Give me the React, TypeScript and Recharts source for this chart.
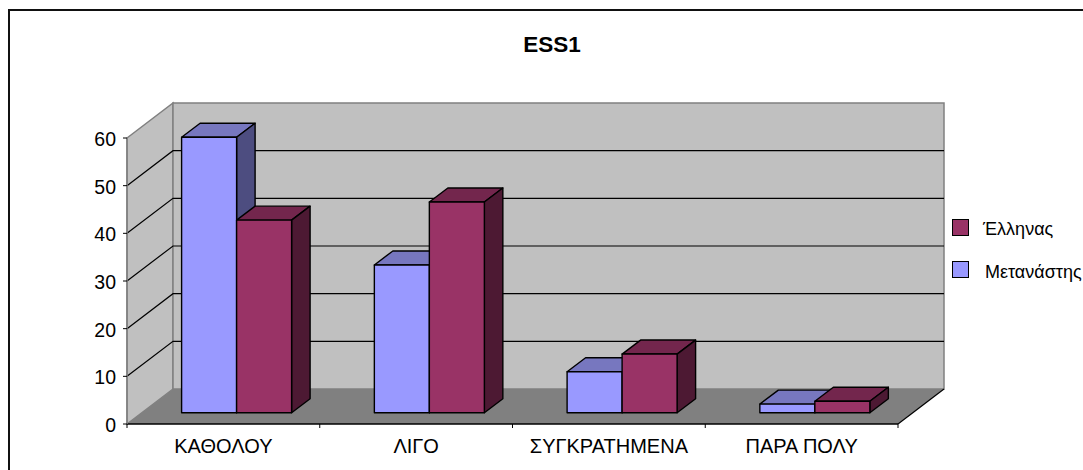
import { Bar, BarChart, Legend, XAxis, YAxis, usePlotArea } from "recharts"

const categories = ["ΚΑΘΟΛΟΥ", "ΛΙΓΟ", "ΣΥΓΚΡΑΤΗΜΕΝΑ", "ΠΑΡΑ ΠΟΛΥ"]
const metanastis = [57.8, 31, 8.6, 1.8]
const ellinas = [40.4, 44.2, 12.3, 2.4]
const yTicks = [0, 10, 20, 30, 40, 50, 60]

const data = categories.map((name, i) => ({
  name,
  "Μετανάστης": metanastis[i],
  "Έλληνας": ellinas[i],
}))

const legendItems = [
  { name: "Έλληνας", color: "#993366", textX: 31 },
  { name: "Μετανάστης", color: "#9999ff", textX: 33 },
]

const FONT = "'Liberation Sans', Arial, sans-serif"

// box depth of the 3D look
const WALL_DX = 46
const WALL_DY = 35
const BAR_DX = 13.6
const BAR_DY = 11.3
const DEPTH_DX = 18.5
const DEPTH_DY = 14

function Walls() {
  const plot = usePlotArea()
  if (!plot) return null
  const { x, y, width, height } = plot
  const bottom = y + height
  const right = x + width
  const band = width / categories.length
  const yOf = (t: number) => bottom - (t / 60) * height
  return (
    <g>
      <text x={552} y={52} textAnchor="middle" fontFamily={FONT} fontSize={22.5} fontWeight="bold" fill="#000">
        ESS1
      </text>
      <polygon
        points={`${x},${y} ${x + WALL_DX},${y - WALL_DY} ${x + WALL_DX},${bottom - WALL_DY} ${x},${bottom}`}
        fill="#c0c0c0"
        stroke="#808080"
        strokeWidth={1.5}
      />
      <rect
        x={x + WALL_DX}
        y={y - WALL_DY}
        width={width}
        height={height}
        fill="#c0c0c0"
        stroke="#808080"
        strokeWidth={1.5}
      />
      <polygon
        points={`${x},${bottom} ${x + WALL_DX},${bottom - WALL_DY} ${right + WALL_DX},${bottom - WALL_DY} ${right},${bottom}`}
        fill="#808080"
      />
      {yTicks.slice(1, -1).map((t) => (
        <path
          key={t}
          d={`M${x},${yOf(t)} L${x + WALL_DX},${yOf(t) - WALL_DY} L${right + WALL_DX},${yOf(t) - WALL_DY}`}
          fill="none"
          stroke="#000"
          strokeWidth={1.2}
        />
      ))}
      <line x1={right} y1={bottom} x2={right + WALL_DX} y2={bottom - WALL_DY} stroke="#000" strokeWidth={1.2} />
      {[0, 1, 2, 3, 4].map((i) => (
        <line key={i} x1={x + band * i} y1={bottom} x2={x + band * i} y2={bottom + 4} stroke="#000" />
      ))}
    </g>
  )
}

function Box(props: any) {
  const { x, y, width, height, fill, top, side } = props
  const fx = x + BAR_DX
  const fy = y - BAR_DY
  const r = fx + width
  const b = fy + height
  const stroke = { stroke: "#000", strokeWidth: 1.4, strokeLinejoin: "round" as const }
  return (
    <g>
      <polygon
        points={`${fx},${fy} ${fx + DEPTH_DX},${fy - DEPTH_DY} ${r + DEPTH_DX},${fy - DEPTH_DY} ${r},${fy}`}
        fill={top}
        {...stroke}
      />
      <polygon
        points={`${r},${fy} ${r + DEPTH_DX},${fy - DEPTH_DY} ${r + DEPTH_DX},${b - DEPTH_DY} ${r},${b}`}
        fill={side}
        {...stroke}
      />
      <rect x={fx} y={fy} width={width} height={height} fill={fill} {...stroke} />
    </g>
  )
}

function ChartLegend() {
  return (
    <div style={{ position: "relative", width: 131, height: 60, fontFamily: FONT, fontSize: 18, color: "#000" }}>
      {legendItems.map((item, i) => (
        <div key={item.name}>
          <div
            style={{
              position: "absolute",
              left: 0,
              top: i * 41.5,
              width: 15,
              height: 15,
              background: item.color,
              border: "1.5px solid #000",
            }}
          />
          <div style={{ position: "absolute", left: item.textX, top: i * 43, whiteSpace: "nowrap" }}>
            {item.name}
          </div>
        </div>
      ))}
    </div>
  )
}

export default function App() {
  return (
    <div style={{ position: "absolute", left: 0, top: 0, width: 1083, height: 470, overflow: "hidden", background: "#fff" }}>
      <div
        style={{
          position: "absolute",
          left: 8,
          top: 9,
          width: 1200,
          height: 600,
          borderLeft: "2px solid #111",
          borderTop: "2px solid #111",
        }}
      />
      <BarChart
        style={{ position: "absolute", left: 0, top: 0 }}
        width={1083}
        height={470}
        data={data}
        margin={{ left: 87, right: 185, top: 138, bottom: 16 }}
        barGap={0}
        barCategoryGap={41}
      >
        <Walls />
        <XAxis
          dataKey="name"
          height={30}
          tickLine={false}
          interval={0}
          axisLine={{ stroke: "#000", strokeWidth: 1.5 }}
          tick={{ fill: "#000", fontSize: 20, fontFamily: FONT }}
          tickMargin={9}
        />
        <YAxis
          width={40}
          domain={[0, 60]}
          ticks={yTicks}
          interval={0}
          tickSize={4}
          tickMargin={7}
          tickLine={{ stroke: "#000" }}
          axisLine={{ stroke: "#808080", strokeWidth: 1.5 }}
          tick={{ fill: "#000", fontSize: 19.5, fontFamily: FONT, dy: 1 }}
        />
        <Legend
          layout="horizontal"
          verticalAlign="middle"
          align="center"
          wrapperStyle={{ left: 952, top: 219, width: 131 }}
          content={<ChartLegend />}
        />
        <Bar
          dataKey="Μετανάστης"
          fill="#9999ff"
          isAnimationActive={false}
          shape={(p: any) => <Box {...p} top="#7777bf" side="#4d4d80" />}
        />
        <Bar
          dataKey="Έλληνας"
          fill="#993366"
          isAnimationActive={false}
          shape={(p: any) => <Box {...p} top="#73264d" side="#4d1933" />}
        />
      </BarChart>
    </div>
  )
}
